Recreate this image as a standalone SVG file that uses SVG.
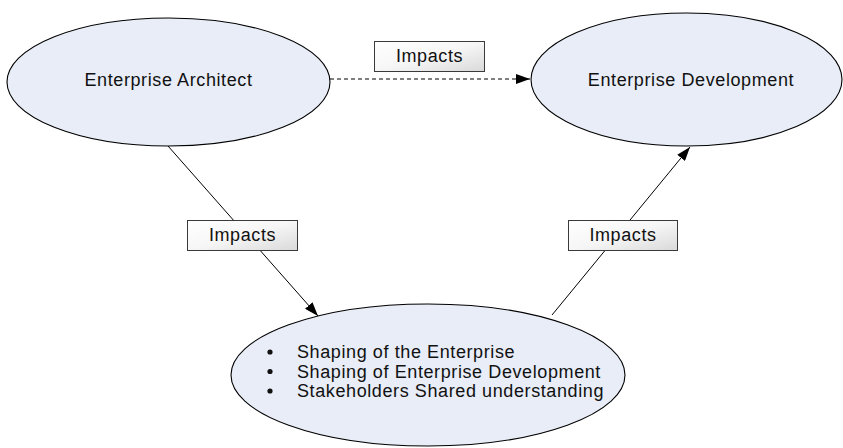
<svg xmlns="http://www.w3.org/2000/svg" width="843" height="448" viewBox="0 0 843 448">
<style>
.node{fill:#e8edf7;stroke:#000;stroke-width:1.1}
.lbl{fill:url(#g);stroke:#3a3a3a;stroke-width:1}
.t{font-family:"Liberation Sans",Arial,sans-serif;font-size:18px;letter-spacing:0.6px;fill:#111}
.c{stroke:#000;stroke-width:1;fill:none}
</style>
<defs>
<linearGradient id="g" x1="0" y1="0" x2="1" y2="1">
<stop offset="0" stop-color="#ffffff"/>
<stop offset="0.5" stop-color="#f6f6f6"/>
<stop offset="1" stop-color="#d9d9d9"/>
</linearGradient>
<marker id="a" markerWidth="14" markerHeight="10" refX="14" refY="5" orient="auto" markerUnits="userSpaceOnUse">
<path d="M0,0 L14,5 L0,10 Z" fill="#000"/>
</marker>
</defs>
<g id="connectors">
<path class="c" d="M330,79 L530,79" stroke-dasharray="4,3" marker-end="url(#a)"/>
<path class="c" d="M168,146 L318,316" marker-end="url(#a)"/>
<path class="c" d="M552,315 L690,147" marker-end="url(#a)"/>
</g>
<g id="enterprise-architect">
<ellipse class="node" cx="168.5" cy="82" rx="161.5" ry="64"/>
<text class="t" x="168.5" y="85.5" text-anchor="middle">Enterprise Architect</text>
</g>
<g id="enterprise-development">
<ellipse class="node" cx="686.5" cy="79.5" rx="155.5" ry="66.5"/>
<text class="t" x="691" y="85.5" text-anchor="middle">Enterprise Development</text>
</g>
<g id="outcomes">
<ellipse class="node" cx="428" cy="375" rx="197" ry="71"/>
<circle cx="270" cy="352" r="2.6" fill="#111"/>
<circle cx="270" cy="371.5" r="2.6" fill="#111"/>
<circle cx="270" cy="391" r="2.6" fill="#111"/>
<text class="t" x="297" y="358">Shaping of the Enterprise</text>
<text class="t" x="297" y="377.5">Shaping of Enterprise Development</text>
<text class="t" x="297" y="397">Stakeholders Shared understanding</text>
</g>
<g id="label-top">
<rect class="lbl" x="374.5" y="41.5" width="110" height="30"/>
<text class="t" x="429.5" y="62" text-anchor="middle">Impacts</text>
</g>
<g id="label-left">
<rect class="lbl" x="187.5" y="220.5" width="110" height="30"/>
<text class="t" x="242.5" y="241" text-anchor="middle">Impacts</text>
</g>
<g id="label-right">
<rect class="lbl" x="568.5" y="220.5" width="109" height="30"/>
<text class="t" x="623" y="241" text-anchor="middle">Impacts</text>
</g>
</svg>
